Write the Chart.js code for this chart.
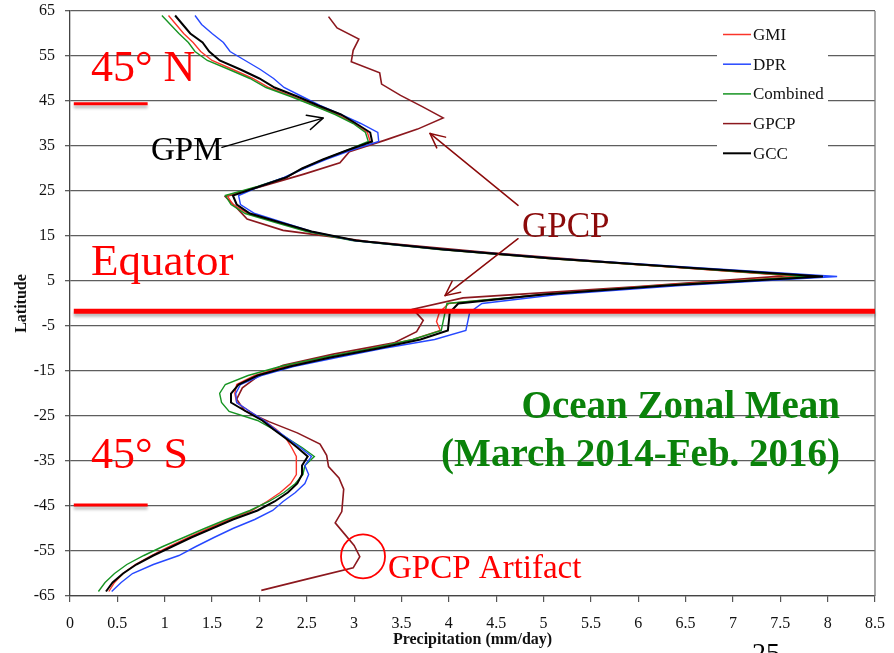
<!DOCTYPE html>
<html>
<head>
<meta charset="utf-8">
<title>Ocean Zonal Mean Precipitation</title>
<script src="https://cdn.jsdelivr.net/npm/chart.js@4/dist/chart.umd.min.js"></script>
<style>
  html, body { margin: 0; padding: 0; background: #ffffff; }
  #chart { display: block; }
</style>
</head>
<body>
<canvas id="chart" width="894" height="653" style="width:894px;height:653px"></canvas>
<script>
// Latitude grid (2 degree steps) shared by the GPM products
const gpmLatitudes = [64, 62, 60, 58, 56, 54, 52, 50, 48, 46, 44, 42, 40, 38, 36, 34, 32, 30, 28, 26, 24, 22, 20, 18, 16, 14, 12, 10, 8, 6, 4, 2, 0,
  -2, -4, -6, -8, -10, -12, -14, -16, -18, -20, -22, -24, -26, -28, -30, -32, -34, -36, -38, -40, -42, -44, -46, -48, -50, -52, -54, -56, -58, -60, -62, -64];

// Zonal mean precipitation over ocean, mm/day
const gmiRain = [1.04, 1.12, 1.20, 1.30, 1.38, 1.50, 1.72, 1.93, 2.10, 2.35, 2.58, 2.82, 3.00, 3.14, 3.17, 2.93, 2.68, 2.46, 2.28, 2.00, 1.66, 1.72, 1.88, 2.20, 2.52, 3.00, 3.92, 5.05, 6.42, 7.72, 6.20, 5.00, 4.00,
  3.90, 3.87, 3.91, 3.62, 3.18, 2.70, 2.27, 1.95, 1.76, 1.74, 1.76, 1.90, 2.05, 2.18, 2.28, 2.34, 2.39, 2.39, 2.39, 2.33, 2.22, 2.08, 1.92, 1.68, 1.46, 1.25, 1.05, 0.86, 0.69, 0.56, 0.47, 0.41];
const dprRain = [1.32, 1.39, 1.50, 1.62, 1.69, 1.85, 2.01, 2.15, 2.26, 2.45, 2.64, 2.86, 3.07, 3.25, 3.26, 2.96, 2.70, 2.47, 2.26, 2.00, 1.78, 1.80, 1.95, 2.25, 2.55, 3.00, 3.95, 5.12, 6.58, 8.10, 6.45, 5.15, 4.35,
  4.22, 4.20, 4.18, 3.85, 3.30, 2.82, 2.36, 2.02, 1.80, 1.75, 1.76, 1.90, 2.05, 2.17, 2.30, 2.43, 2.55, 2.48, 2.52, 2.48, 2.38, 2.25, 2.14, 1.95, 1.72, 1.52, 1.33, 1.15, 0.88, 0.66, 0.54, 0.44];
const combinedRain = [0.97, 1.06, 1.15, 1.25, 1.32, 1.45, 1.68, 1.90, 2.07, 2.33, 2.57, 2.80, 2.99, 3.12, 3.15, 2.92, 2.68, 2.46, 2.27, 1.98, 1.64, 1.70, 1.85, 2.17, 2.50, 2.98, 3.90, 5.05, 6.45, 7.80, 6.25, 5.00, 3.98,
  3.96, 3.94, 3.92, 3.62, 3.18, 2.67, 2.22, 1.88, 1.64, 1.58, 1.60, 1.68, 1.98, 2.15, 2.30, 2.45, 2.58, 2.48, 2.46, 2.38, 2.26, 2.10, 1.90, 1.65, 1.42, 1.20, 0.98, 0.78, 0.60, 0.47, 0.37, 0.30];
const gccRain = [1.11, 1.19, 1.27, 1.40, 1.47, 1.58, 1.80, 2.00, 2.16, 2.40, 2.62, 2.86, 3.02, 3.17, 3.19, 2.92, 2.67, 2.45, 2.28, 2.00, 1.72, 1.76, 1.90, 2.22, 2.55, 3.02, 3.95, 5.10, 6.50, 7.95, 6.30, 5.00, 4.10,
  4.01, 4.00, 3.99, 3.70, 3.25, 2.75, 2.32, 1.98, 1.78, 1.70, 1.70, 1.86, 2.03, 2.15, 2.28, 2.40, 2.51, 2.45, 2.45, 2.40, 2.30, 2.16, 1.98, 1.72, 1.50, 1.28, 1.08, 0.88, 0.70, 0.56, 0.45, 0.38];

// GPCP is on its own 2.5 degree grid
const gpcpLatitudes = [63.75, 61.25, 58.75, 56.25, 53.75, 51.25, 48.75, 46.25, 43.75, 41.25, 38.75, 36.25, 33.75, 31.25, 28.75, 26.25, 23.75, 21.25, 18.75, 16.25, 13.75, 11.25, 8.75, 6.25, 3.75, 1.25,
  -1.25, -3.75, -6.25, -8.75, -11.25, -13.75, -16.25, -18.75, -21.25, -23.75, -26.25, -28.75, -31.25, -33.75, -36.25, -38.75, -41.25, -43.75, -46.25, -48.75, -51.25, -53.75, -56.25, -58.75, -61.25, -63.75];
const gpcpRain = [2.73, 2.82, 3.05, 2.99, 2.97, 3.27, 3.29, 3.49, 3.72, 3.94, 3.67, 3.32, 2.95, 2.85, 2.47, 2.06, 1.64, 1.76, 1.87, 2.25, 3.15, 4.45, 5.95, 7.62, 6.00, 4.15,
  3.62, 3.73, 3.66, 3.42, 2.78, 2.25, 1.98, 1.82, 1.76, 1.84, 2.10, 2.40, 2.64, 2.71, 2.73, 2.84, 2.89, 2.88, 2.87, 2.80, 2.90, 3.00, 3.06, 2.99, 2.50, 2.02];

// Axis ticks
const precipTicks = [0, 0.5, 1, 1.5, 2, 2.5, 3, 3.5, 4, 4.5, 5, 5.5, 6, 6.5, 7, 7.5, 8, 8.5];
const latitudeTicks = [-65, -55, -45, -35, -25, -15, -5, 5, 15, 25, 35, 45, 55, 65];

const SERIF = '"Liberation Serif", "Times New Roman", serif';

function profile(lats, rain) {
  return lats.map((lat, i) => ({ x: rain[i], y: lat }));
}

function series(label, lats, rain, color, width, order) {
  return {
    label: label,
    data: profile(lats, rain),
    borderColor: color,
    backgroundColor: color,
    borderWidth: width,
    showLine: true,
    pointRadius: 0,
    pointHoverRadius: 0,
    tension: 0,
    fill: false,
    order: order
  };
}

function arrow(ctx, x1, y1, x2, y2, color, width, head) {
  const ang = Math.atan2(y2 - y1, x2 - x1);
  ctx.save();
  ctx.strokeStyle = color;
  ctx.lineWidth = width;
  ctx.lineCap = 'round';
  ctx.lineJoin = 'round';
  ctx.beginPath();
  ctx.moveTo(x1, y1);
  ctx.lineTo(x2, y2);
  ctx.stroke();
  ctx.beginPath();
  ctx.moveTo(x2 - head * Math.cos(ang - 0.45), y2 - head * Math.sin(ang - 0.45));
  ctx.lineTo(x2, y2);
  ctx.lineTo(x2 - head * Math.cos(ang + 0.45), y2 - head * Math.sin(ang + 0.45));
  ctx.stroke();
  ctx.restore();
}

// Frame on the right edge and the legend box in the upper right
const framePlugin = {
  id: 'frameAndLegend',
  beforeDatasetsDraw(chart) {
    const { ctx, chartArea: a } = chart;
    ctx.save();
    ctx.strokeStyle = '#7a7a7a';
    ctx.lineWidth = 1.3;
    ctx.beginPath();
    ctx.moveTo(a.right, a.top);
    ctx.lineTo(a.right, a.bottom);
    ctx.stroke();

    // legend
    const left = a.right - 158;
    ctx.fillStyle = '#ffffff';
    ctx.fillRect(left, a.top + 8, 111, 155);
    ctx.font = '17px ' + SERIF;
    ctx.textBaseline = 'middle';
    ctx.textAlign = 'left';
    chart.data.datasets.forEach((ds, i) => {
      const y = a.top + 23.5 + i * 29.7;
      ctx.strokeStyle = ds.borderColor;
      ctx.lineWidth = ds.label === 'GCC' ? 2 : 1.5;
      ctx.beginPath();
      ctx.moveTo(left + 6, y);
      ctx.lineTo(left + 34, y);
      ctx.stroke();
      ctx.fillStyle = '#111';
      ctx.fillText(ds.label, left + 36, y + 1);
    });
    ctx.restore();
  }
};

// Slide labels, marker lines and arrows drawn over the profiles
const notesPlugin = {
  id: 'notes',
  afterDatasetsDraw(chart) {
    const { ctx } = chart;
    const xs = chart.scales.x, ys = chart.scales.y;
    const X = v => xs.getPixelForValue(v);
    const Y = v => ys.getPixelForValue(v);
    const RED = '#ff0000';
    const DARKRED = '#8b0a0a';
    ctx.save();

    // red marker lines (latitude bands and equator)
    ctx.shadowColor = 'rgba(0,0,0,0.28)';
    ctx.shadowOffsetY = 3;
    ctx.shadowBlur = 3;
    ctx.strokeStyle = RED;
    ctx.lineCap = 'butt';
    ctx.lineWidth = 3;
    ctx.beginPath();
    ctx.moveTo(X(0.04), Y(44.4)); ctx.lineTo(X(0.82), Y(44.4));
    ctx.moveTo(X(0.04), Y(-44.8)); ctx.lineTo(X(0.82), Y(-44.8));
    ctx.stroke();
    ctx.lineWidth = 5;
    ctx.beginPath();
    ctx.moveTo(X(0.04), Y(-1.7)); ctx.lineTo(X(8.5), Y(-1.7));
    ctx.stroke();
    ctx.shadowColor = 'rgba(0,0,0,0)';
    ctx.shadowOffsetY = 0;
    ctx.shadowBlur = 0;

    ctx.textAlign = 'left';
    ctx.textBaseline = 'alphabetic';
    ctx.fillStyle = RED;
    ctx.font = '44px ' + SERIF;
    ctx.fillText('45\u00B0 N', X(0.222), Y(49.4));
    ctx.fillText('45\u00B0 S', X(0.222), Y(-36.56));
    ctx.font = '45px ' + SERIF;
    ctx.fillText('Equator', X(0.222), Y(6.43));

    // GPM pointer
    ctx.fillStyle = '#000';
    ctx.font = '33px ' + SERIF;
    ctx.fillText('GPM', X(0.855), Y(31.8));
    arrow(ctx, X(1.605), Y(34.7), X(2.672), Y(41.2), '#000', 1.5, 17);

    // GPCP pointers
    ctx.fillStyle = DARKRED;
    ctx.font = '35px ' + SERIF;
    ctx.fillText('GPCP', X(4.773), Y(14.7));
    arrow(ctx, X(4.731), Y(21.8), X(3.801), Y(37.8), DARKRED, 1.5, 16);
    arrow(ctx, X(4.731), Y(14.4), X(3.960), Y(1.75), DARKRED, 1.5, 16);

    // GPCP artifact ring
    ctx.strokeStyle = RED;
    ctx.lineWidth = 1.8;
    ctx.beginPath();
    ctx.arc(X(3.094), Y(-56.2), 22, 0, Math.PI * 2);
    ctx.stroke();
    ctx.fillStyle = RED;
    ctx.font = '33px ' + SERIF;
    ctx.fillText('GPCP Artifact', X(3.358), Y(-61.1));

    // Title block
    ctx.fillStyle = '#0a820a';
    ctx.font = 'bold 39px ' + SERIF;
    ctx.textAlign = 'right';
    ctx.fillText('Ocean Zonal Mean', X(8.131), Y(-25.4));
    ctx.fillText('(March 2014-Feb. 2016)', X(8.131), Y(-36.1));

    // page number
    ctx.fillStyle = '#000';
    ctx.textAlign = 'left';
    ctx.font = '28px ' + SERIF;
    ctx.fillText('25', 752, 662);
    ctx.restore();
  }
};

new Chart(document.getElementById('chart'), {
  type: 'scatter',
  data: {
    datasets: [
      series('GMI', gpmLatitudes, gmiRain, 'rgb(250,52,42)', 1.4, 3),
      series('DPR', gpmLatitudes, dprRain, 'rgb(38,72,255)', 1.4, 1),
      series('Combined', gpmLatitudes, combinedRain, 'rgb(22,148,34)', 1.4, 2),
      series('GPCP', gpcpLatitudes, gpcpRain, 'rgb(140,24,30)', 1.6, 4),
      series('GCC', gpmLatitudes, gccRain, '#000000', 2.0, 0)
    ]
  },
  options: {
    responsive: false,
    animation: false,
    devicePixelRatio: 1,
    layout: { padding: { left: 0, right: 19, top: 11, bottom: 0 } },
    plugins: {
      legend: { display: false },
      tooltip: { enabled: false }
    },
    scales: {
      x: {
        type: 'linear',
        min: 0,
        max: 8.5,
        afterBuildTicks: s => { s.ticks = precipTicks.map(v => ({ value: v })); },
        afterFit: s => { s.height = 57; s.paddingLeft = 0; s.paddingRight = 0; },
        grid: { drawOnChartArea: false, drawTicks: true, tickLength: 6, color: '#555', lineWidth: 1.2 },
        border: { display: true, color: '#444', width: 1.3 },
        ticks: { autoSkip: false, maxRotation: 0, padding: 12, color: '#111', font: { family: SERIF, size: 16 }, callback: v => String(v) },
        title: { display: true, text: 'Precipitation (mm/day)', color: '#111', padding: { top: 0, bottom: 4 }, font: { family: SERIF, size: 16, weight: 'bold' } }
      },
      y: {
        type: 'linear',
        min: -65,
        max: 65,
        afterBuildTicks: s => { s.ticks = latitudeTicks.map(v => ({ value: v })); },
        afterFit: s => { s.width = 70; s.paddingTop = 0; s.paddingBottom = 0; },
        grid: { drawTicks: true, tickLength: 5, color: '#5e5e5e', lineWidth: 1.3 },
        border: { display: true, color: '#444', width: 1.3 },
        ticks: { padding: 10, color: '#111', font: { family: SERIF, size: 16 }, callback: v => String(v) },
        title: { display: true, text: 'Latitude', color: '#111', padding: { top: 12, bottom: 0 }, font: { family: SERIF, size: 16, weight: 'bold' } }
      }
    }
  },
  plugins: [framePlugin, notesPlugin]
});
</script>
</body>
</html>
